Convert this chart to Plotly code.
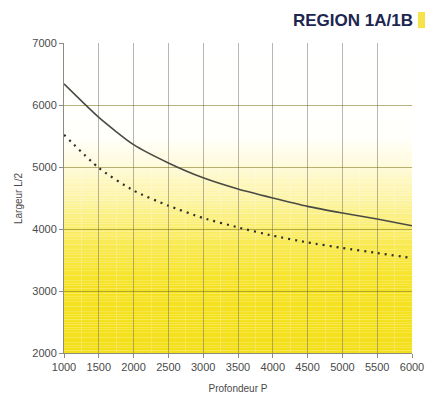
import numpy as np
import plotly.graph_objects as go

# Depth P (x) and half-width L/2 (y) for the two curves
profondeur = [1000, 1500, 2000, 2500, 3000, 3500, 4000, 4500, 5000, 5500, 6000]
largeur_continue = [6340, 5800, 5360, 5065, 4825, 4645, 4500, 4365, 4258, 4160, 4053]
largeur_pointillee = [5520, 4985, 4620, 4376, 4177, 4026, 3892, 3784, 3694, 3613, 3532]

x_ticks = [1000, 1500, 2000, 2500, 3000, 3500, 4000, 4500, 5000, 5500, 6000]
y_ticks = [2000, 3000, 4000, 5000, 6000, 7000]

fig = go.Figure()

fig.add_trace(go.Scatter(
    x=profondeur, y=largeur_continue, mode="lines",
    line=dict(color="#4a4a44", width=1.6, shape="spline", smoothing=0.6),
    showlegend=False, hoverinfo="skip",
))
fig.add_trace(go.Scatter(
    x=profondeur, y=largeur_pointillee, mode="lines",
    line=dict(color="#2e2e28", width=2.2, dash="2px,5px", shape="spline", smoothing=0.6),
    showlegend=False, hoverinfo="skip",
))

# White-to-yellow background gradient, drawn as thin bands below the grid
stops_v = [2000, 3000, 3500, 4000, 4500, 5000, 5500, 7000]
stops_c = [
    (243, 223, 25), (245, 226, 35), (247, 230, 58), (250, 237, 108),
    (252, 244, 165), (255, 250, 215), (255, 255, 252), (255, 255, 255),
]
edges = np.linspace(2000, 7000, 121)
shapes = []
for lo, hi in zip(edges[:-1], edges[1:]):
    mid = 0.5 * (lo + hi)
    rgb = [int(round(np.interp(mid, stops_v, [c[i] for c in stops_c]))) for i in range(3)]
    shapes.append(dict(
        type="rect", xref="x", yref="y", x0=1000, x1=6000, y0=lo, y1=hi,
        fillcolor=f"rgb({rgb[0]},{rgb[1]},{rgb[2]})", line=dict(width=0), layer="below",
    ))

# small yellow marker next to the heading
shapes.append(dict(
    type="rect", xref="paper", yref="paper", x0=1.017, x1=1.05, y0=1.048, y1=1.1,
    fillcolor="#f6e24a", line=dict(width=0), layer="above",
))

font_family = "Liberation Sans, Arial, sans-serif"

fig.update_layout(
    width=425, height=396,
    margin=dict(l=64, r=13, t=43, b=43, autoexpand=False),
    paper_bgcolor="white", plot_bgcolor="white",
    shapes=shapes,
    font=dict(family=font_family, color="#4a4a4a", size=10),
    annotations=[
        dict(
            text="<b>REGION 1A/1B</b>", xref="paper", yref="paper",
            x=1.009, y=1.074, xanchor="right", yanchor="middle",
            showarrow=False, font=dict(family=font_family, size=17, color="#1c2650"),
        ),
        dict(
            text="Largeur L/2", xref="paper", yref="paper",
            x=-0.132, y=0.5, xanchor="center", yanchor="middle", textangle=-90,
            showarrow=False, font=dict(family=font_family, size=10, color="#4a4a4a"),
        ),
    ],
    xaxis=dict(
        range=[1000, 6000], tickvals=x_ticks, ticktext=[str(v) for v in x_ticks],
        showgrid=True, gridcolor="rgba(55,55,35,0.36)", gridwidth=1,
        minor=dict(dtick=250, showgrid=True, gridcolor="rgba(255,255,255,0.22)", gridwidth=1),
        showline=True, linecolor="#8c8c80", linewidth=1,
        ticks="outside", ticklen=4, tickcolor="#8c8c80",
        tickfont=dict(size=11, color="#4a4a4a"),
        title=dict(text="Profondeur P", font=dict(size=10, color="#4a4a4a"), standoff=12),
        zeroline=False, fixedrange=True, automargin=False,
    ),
    yaxis=dict(
        range=[2000, 7000], tickvals=y_ticks, ticktext=[str(v) for v in y_ticks],
        showgrid=True, gridcolor="rgba(110,100,0,0.5)", gridwidth=1,
        minor=dict(dtick=500, showgrid=True, gridcolor="rgba(255,255,255,0.2)", gridwidth=1),
        showline=True, linecolor="#8c8c80", linewidth=1,
        ticks="outside", ticklen=4, tickcolor="#8c8c80",
        tickfont=dict(size=11, color="#4a4a4a"),
        zeroline=False, fixedrange=True, automargin=False,
    ),
)

fig.write_html("out.html")
